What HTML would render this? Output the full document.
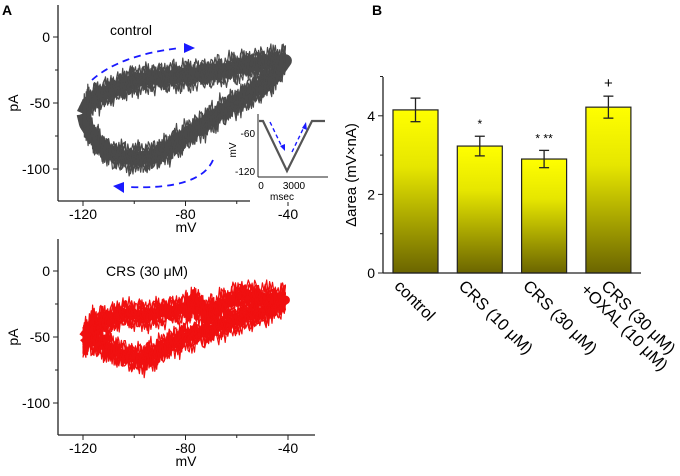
<!DOCTYPE html>
<html><head><meta charset="utf-8"><style>
body{margin:0;background:#fff}
svg text{font-family:"Liberation Sans",sans-serif}
</style></head><body>
<svg width="680" height="471" viewBox="0 0 680 471">
<g id="panelA"></g>
<g id="panelB"></g>
</svg>
<script>
// Panel B data
const categories=["control","CRS (10 μM)","CRS (30 μM)","CRS (30 μM)\n+OXAL (10 μM)"];
const barValues=[4.15,3.23,2.9,4.22];
const barErrors=[0.3,0.25,0.22,0.28];
const barMarks=["","*","* **","+"];
const yTicks=[0,2,4];
// Panel A loop waypoints (mV, pA)
const controlUpper=[[-120,-58],[-118,-50],[-113,-44],[-106,-38],[-100,-33],[-92,-31],[-85,-30],[-78,-29],[-70,-27],[-62,-24],[-55,-21],[-48,-19],[-41,-18]];
const controlLower=[[-41,-26],[-46,-32],[-52,-39],[-58,-47],[-64,-54],[-70,-62],[-76,-70],[-82,-78],[-88,-86],[-94,-91],[-102,-92],[-110,-88],[-115,-78],[-119,-66],[-120,-58]];
const crsUpper=[[-120,-50],[-116,-40],[-110,-37],[-104,-32],[-96,-34],[-88,-31],[-80,-28],[-76,-24],[-72,-32],[-66,-26],[-58,-18],[-50,-20],[-41,-22]];
const crsLower=[[-41,-28],[-48,-30],[-56,-34],[-64,-40],[-72,-46],[-80,-50],[-86,-55],[-92,-63],[-98,-67],[-106,-62],[-112,-56],[-118,-52],[-120,-55]];
const axTicksX=[-120,-80,-40];
const axTicksY=[0,-50,-100];

const NS="http://www.w3.org/2000/svg";
function mk(tag,attrs,parent){const e=document.createElementNS(NS,tag);for(const k in attrs)e.setAttribute(k,attrs[k]);parent.appendChild(e);return e;}

// ---------- Panel B ----------
const B=document.getElementById('panelB');
const bx0=383,by0=273,unit=39.3,bw=45,step=64.3,bstart=393;
const yB=v=>by0-v*unit;
const defs=mk('defs',{},B);
const lg=mk('linearGradient',{id:'yg',x1:0,y1:0,x2:0,y2:1},defs);
mk('stop',{offset:'0','stop-color':'#ffff00'},lg);
mk('stop',{offset:'0.35','stop-color':'#e6e600'},lg);
mk('stop',{offset:'1','stop-color':'#6b6500'},lg);
mk('text',{x:372,y:15,'font-size':14,'font-weight':'bold'},B).textContent='B';
categories.forEach((c,i)=>{
  const x=bstart+i*step, v=barValues[i];
  const r=mk('rect',{x:x,y:yB(v),width:bw,height:by0-yB(v),fill:'url(#yg)',stroke:'#222','stroke-width':1.2},B);
  
  
  const cx=x+bw/2,et=yB(v+barErrors[i]),eb=yB(v-barErrors[i]);
  const eg=mk('g',{stroke:'#222','stroke-width':1.3},B);
  
  
  mk('line',{x1:cx,x2:cx,y1:et,y2:eb},eg);
  mk('line',{x1:cx-5,x2:cx+5,y1:et,y2:et},eg);
  mk('line',{x1:cx-5,x2:cx+5,y1:eb,y2:eb},eg);
  if(barMarks[i]){const t=mk('text',{x:cx,y:et-8,'font-size':barMarks[i]=='+'?15:12,'text-anchor':'middle'},B);t.textContent=barMarks[i];
    }
  const lines=c.split('\n');
  const lt=mk('text',{transform:`translate(${cx-22+(lines.length>1?14:0)},${by0+14}) rotate(45)`,'font-size':16.5},B);
  
  
  lines.forEach((l,j)=>{const ts=mk('tspan',{x:-j*12,dy:j?17:0},lt);ts.textContent=l;});
});
mk('line',{x1:bx0,x2:bx0,y1:77,y2:by0,stroke:'#222','stroke-width':1.3},B);
mk('line',{x1:bx0,x2:641,y1:by0,y2:by0,stroke:'#222','stroke-width':1.3},B);
[0,1,2,3,4,5].forEach(v=>mk('line',{x1:bx0-(v%2==0?5:3),x2:bx0,y1:yB(v),y2:yB(v),stroke:'#222'},B));
yTicks.forEach(v=>{const t=mk('text',{x:bx0-8,y:yB(v)+5,'font-size':14,'text-anchor':'end'},B);t.textContent=v;});
const yt=mk('text',{transform:`translate(356,${by0-98}) rotate(-90)`,'font-size':15,'text-anchor':'middle'},B);
yt.textContent='Δarea (mV×nA)';



// ---------- Panel A ----------
const A=document.getElementById('panelA');
mk('text',{x:2,y:15,'font-size':14,'font-weight':'bold'},A).textContent='A';
function densify(pts,n){const out=[];for(let i=0;i<pts.length-1;i++){for(let k=0;k<n;k++){const t=k/n;out.push([pts[i][0]+(pts[i+1][0]-pts[i][0])*t,pts[i][1]+(pts[i+1][1]-pts[i][1])*t]);}}out.push(pts[pts.length-1]);return out;}
function drawPlot(off,upper,lower,color,label,nm){
  const g=mk('g',{},A);
  
  
  const X=mv=>83+(mv+120)*2.5625, Y=pa=>37+off-pa*1.32;
  const loop=densify(upper.concat(lower.slice(1)),16);
  const red=color=='red';
  const col=red?'#f01010':'#4a4a4a';
  const base=loop.map(p=>X(p[0]).toFixed(1)+','+Y(p[1]).toFixed(1)).join(' ');
  const bl=mk('polyline',{points:base,fill:'none',stroke:col,'stroke-width':red?9:13,'stroke-linejoin':'round'},g);
  
  
  for(let c=0;c<14;c++){
    const sh=((c%7)-3)*1.8;
    const pts=loop.map((p,i)=>{const j=sh+Math.sin(i*1.7+c*2.3)*3+Math.sin(i*0.53+c*1.1)*3+Math.sin(i*3.9+c)*2.5+Math.sin(i*7.3+c*0.7)*2;return X(p[0]).toFixed(1)+','+Y(p[1]+j).toFixed(1);}).join(' ');
    const pl=mk('polyline',{points:pts,fill:'none',stroke:col,'stroke-width':1.2,'stroke-linejoin':'round'},g);
    
    
  }
  // axes
  mk('line',{x1:58,x2:58,y1:5+off,y2:201+off,stroke:'#222','stroke-width':1.3},g);
  mk('line',{x1:58,x2:315,y1:201+off,y2:201+off,stroke:'#222','stroke-width':1.3},g);
  [-120,-100,-80,-60,-40].forEach(v=>mk('line',{x1:X(v),x2:X(v),y1:201+off,y2:201+off+(v%40==0?5:3),stroke:'#222'},g));
  [0,-25,-50,-75,-100].forEach(v=>mk('line',{x1:58-(v%50==0?5:3),x2:58,y1:Y(v),y2:Y(v),stroke:'#222'},g));
  axTicksX.forEach(v=>{const t=mk('text',{x:X(v),y:219+off,'font-size':14,'text-anchor':'middle'},g);t.textContent=v;});
  axTicksY.forEach(v=>{const t=mk('text',{x:50,y:Y(v)+5,'font-size':14,'text-anchor':'end'},g);t.textContent=v;});
  mk('text',{x:186,y:232+off,'font-size':14,'text-anchor':'middle'},g).textContent='mV';
  mk('text',{transform:`translate(18,${103+off}) rotate(-90)`,'font-size':14,'text-anchor':'middle'},g).textContent='pA';
  mk('text',{x:off?106:110,y:off?276:35,'font-size':14},g).textContent=label;
}
drawPlot(0,controlUpper,controlLower,'gray','control','control-plot');
drawPlot(234,crsUpper,crsLower,'red','CRS (30 μM)','crs-plot');
// arrows
const ar=mk('g',{fill:'none',stroke:'#1a1aff','stroke-width':1.8,'stroke-dasharray':'7,5'},A);


mk('path',{d:'M92,80 Q120,55 180,48'},ar);
mk('path',{d:'M213,160 Q200,190 128,187'},ar);
mk('polygon',{points:'184,43 195,48 184,53',fill:'#1a1aff',stroke:'none'},A);
mk('polygon',{points:'124,182 113,186 124,193',fill:'#1a1aff',stroke:'none'},A);
// inset
const I=mk('g',{},A);


mk('rect',{x:250,y:112,width:80,height:90,fill:'#fff'},I);
mk('line',{x1:258,x2:258,y1:114,y2:177,stroke:'#222'},I);
mk('line',{x1:258,x2:328,y1:177,y2:177,stroke:'#222'},I);
mk('polyline',{points:'259,121 263,121 287,171 312,121 325,121',fill:'none',stroke:'#555','stroke-width':2.2},I);
const ia=mk('g',{fill:'none',stroke:'#1a1aff','stroke-width':1.4,'stroke-dasharray':'4,3'},I);
mk('line',{x1:270,y1:122,x2:282,y2:147},ia);mk('line',{x1:292,y1:152,x2:304,y2:127},ia);
mk('polygon',{points:'280,146 285,151 285,144',fill:'#1a1aff'},I);
mk('polygon',{points:'302,128 306,122 307,130',fill:'#1a1aff'},I);
mk('text',{x:255,y:137,'font-size':10,'text-anchor':'end'},I).textContent='-60';
mk('text',{x:255,y:175,'font-size':10,'text-anchor':'end'},I).textContent='-120';
mk('text',{x:261,y:189,'font-size':10,'text-anchor':'middle'},I).textContent='0';
mk('text',{x:294,y:189,'font-size':10,'text-anchor':'middle'},I).textContent='3000';
mk('text',{x:282,y:200,'font-size':10,'text-anchor':'middle'},I).textContent='msec';
mk('text',{transform:'translate(236,150) rotate(-90)','font-size':10,'text-anchor':'middle'},I).textContent='mV';
</script>
</body></html>
